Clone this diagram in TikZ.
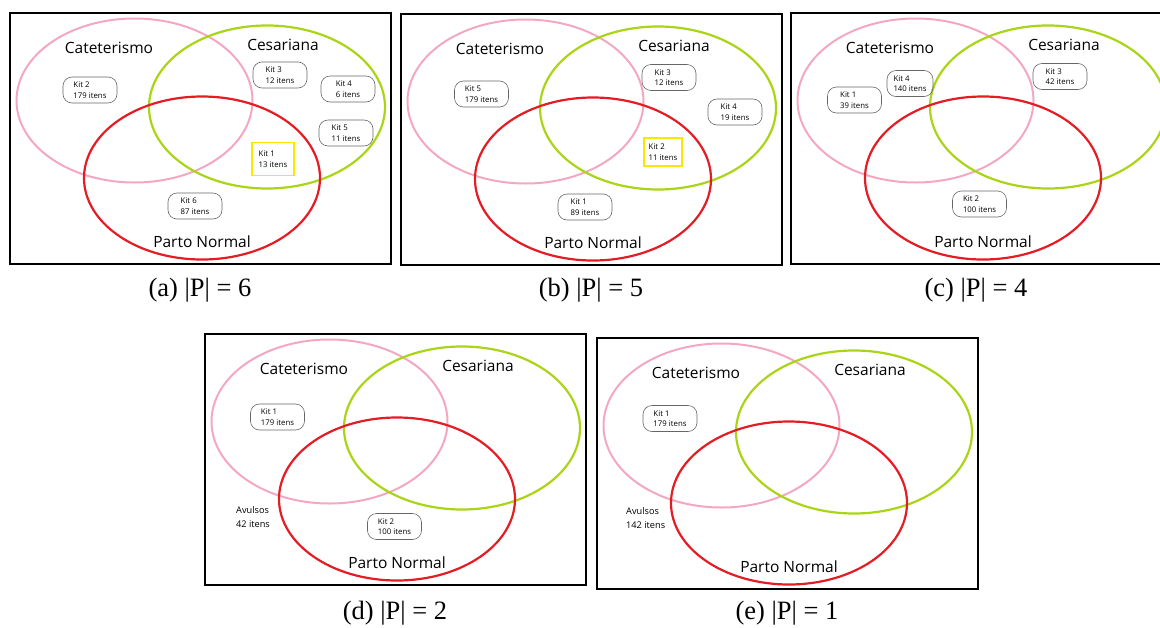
\documentclass[tikz,border=0pt]{standalone}
\usepackage{fontspec}
\setmainfont{Liberation Serif}
\newfontfamily\vennfont{Open Sans}

\definecolor{catpink}{RGB}{244,168,192}
\definecolor{cesgreen}{RGB}{170,212,22}
\definecolor{partored}{RGB}{228,28,36}
\definecolor{kityellow}{RGB}{250,232,0}

\begin{document}
\begin{tikzpicture}[x=1pt,y=-1pt,
    frame/.style={line width=2.4pt,black},
    setlabel/.style={font=\vennfont\fontsize{15.5}{18}\selectfont},
    kit/.style={draw=black!60,line width=0.6pt,rounded corners=9pt,
        minimum width=54pt,minimum height=26pt,inner sep=2pt,align=left,
        font=\vennfont\fontsize{7.8}{10.5}\selectfont},
    kitpick/.style={draw=kityellow,line width=1.6pt,inner sep=2pt,align=left,
        font=\vennfont\fontsize{7.8}{10.5}\selectfont},
    loose/.style={anchor=west,align=left,inner sep=0pt,
        font=\vennfont\fontsize{9.2}{14.5}\selectfont},
    subcap/.style={font=\fontsize{26.5}{30}\selectfont}]

    \useasboundingbox (0,0) rectangle (1160,627);

    % the five frames with the three sets
    \foreach \p/\ox/\oy in {a/10/13,b/401/14,c/791/13,d/205/334,e/597/338}{
        \begin{scope}[shift={(\ox,\oy)}]
            \draw[frame] (0,0) rectangle (381,251);
            \draw[catpink,line width=2pt] (124.5,87.5) ellipse (118 and 82);
            \draw[cesgreen,line width=2.2pt] (257,94) ellipse (118 and 81.5);
            \draw[partored,line width=2.2pt] (192,165) ellipse (118 and 81.5);
            \node[setlabel] (cat-\p) at (99,35) {Cateterismo};
            \node[setlabel] (ces-\p) at (273,32) {Cesariana};
            \node[setlabel] (pn-\p) at (192,229) {Parto Normal};
        \end{scope}
    }

    % (a)
    \node[kit] (a-kit2) at (90,90) {Kit 2\\179 itens};
    \node[kit] (a-kit3) at (280,75) {Kit 3\\12 itens};
    \node[kit] (a-kit4) at (348,89) {Kit 4\\6 itens};
    \node[kit] (a-kit5) at (346,133) {Kit 5\\11 itens};
    \node[kitpick,minimum width=42pt,minimum height=33pt] (a-kit1) at (273,159) {Kit 1\\13 itens};
    \node[kit] (a-kit6) at (195,206) {Kit 6\\87 itens};
    \node[subcap] (cap-a) at (200,290) {(a) |P| = 6};

    % (b)
    \node[kit] (b-kit5) at (481.5,94) {Kit 5\\179 itens};
    \node[kit] (b-kit3) at (669,77.5) {Kit 3\\12 itens};
    \node[kit] (b-kit4) at (735,112) {Kit 4\\19 itens};
    \node[kitpick,minimum width=38pt,minimum height=28pt] (b-kit2) at (663,152) {Kit 2\\11 itens};
    \node[kit] (b-kit1) at (585,207) {Kit 1\\89 itens};
    \node[subcap] (cap-b) at (591,290) {(b) |P| = 5};

    % (c)
    \node[kit] (c-kit1) at (854.5,100) {Kit 1\\39 itens};
    \node[kit,minimum width=46pt] (c-kit4) at (910,83.5) {Kit 4\\140 itens};
    \node[kit] (c-kit3) at (1060,76.5) {Kit 3\\42 itens};
    \node[kit] (c-kit2) at (979.5,204) {Kit 2\\100 itens};
    \node[subcap] (cap-c) at (976,290) {(c) |P| = 4};

    % (d)
    \node[kit] (d-kit1) at (277.5,417) {Kit 1\\179 itens};
    \node[kit] (d-kit2) at (394.5,526.5) {Kit 2\\100 itens};
    \node[loose] (d-avulsos) at (236,517) {Avulsos\\42 itens};
    \node[subcap] (cap-d) at (395,613) {(d) |P| = 2};

    % (e)
    \node[kit] (e-kit1) at (670,418.5) {Kit 1\\179 itens};
    \node[loose] (e-avulsos) at (626,518) {Avulsos\\142 itens};
    \node[subcap] (cap-e) at (787,613) {(e) |P| = 1};
\end{tikzpicture}
\end{document}
